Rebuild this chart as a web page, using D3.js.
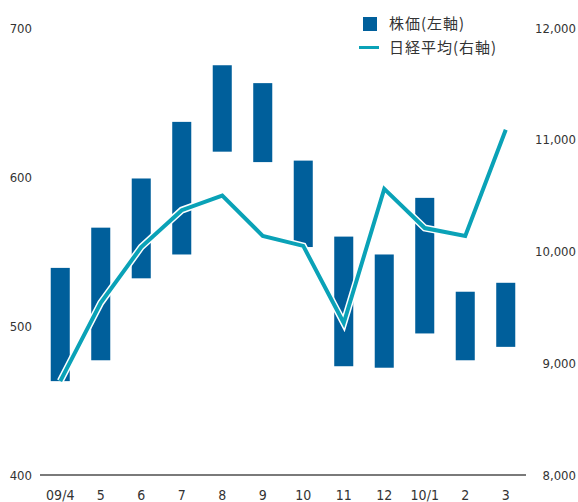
<!DOCTYPE html>
<html>
<head>
<meta charset="utf-8">
<script src="https://cdn.jsdelivr.net/npm/d3@7"></script>
<style>
  html, body { margin: 0; padding: 0; background: #fff; }
  svg { display: block; }
  .num { font-family: "Liberation Sans Narrow", "DejaVu Sans Condensed", "Roboto", sans-serif; font-stretch: condensed; fill: #333; }
  .jp { font-family: "Noto Sans CJK JP", sans-serif; fill: #333; letter-spacing: 1px; }
</style>
</head>
<body>
<svg id="chart" width="578" height="502"></svg>
<script>
// Months, April 2009 through March 2010
const months = ["09/4", "5", "6", "7", "8", "9", "10", "11", "12", "10/1", "2", "3"];
// Monthly share price range (low / high), left axis
const priceHigh = [539, 566, 599, 637, 675, 663, 611, 560, 548, 586, 523, 529];
const priceLow  = [463, 477, 532, 548, 617, 610, 553, 473, 472, 495, 477, 486];
// Nikkei average, right axis
const nikkei = [8840, 9540, 10040, 10370, 10500, 10140, 10050, 9360, 10560, 10210, 10140, 11090];
// Axis ticks
const leftTicks = [400, 500, 600, 700];
const rightTicks = [8000, 9000, 10000, 11000, 12000];

const barColor = "#005f9b";
const lineColor = "#0aa2b7";

const svg = d3.select("#chart");

const x = d3.scaleBand().domain(months).range([40, 526]).paddingInner(0.53).paddingOuter(0.265);
const yL = d3.scaleLinear().domain([400, 700]).range([475, 28]);
const yR = d3.scaleLinear().domain([8000, 12000]).range([475, 28]);

// Left axis labels
svg.append("g").selectAll("text").data(leftTicks).join("text")
  .attr("class", "num")
  .attr("x", 32).attr("y", d => yL(d)).attr("dy", "0.35em")
  .attr("text-anchor", "end").attr("font-size", 13)
  .text(d => d3.format(",")(d));

// Right axis labels
svg.append("g").selectAll("text").data(rightTicks).join("text")
  .attr("class", "num")
  .attr("x", 576).attr("y", d => yR(d)).attr("dy", "0.35em")
  .attr("text-anchor", "end").attr("font-size", 13)
  .text(d => d3.format(",")(d));

// Baseline
svg.append("line")
  .attr("x1", x.range()[0]).attr("x2", x.range()[1])
  .attr("y1", yL(400)).attr("y2", yL(400))
  .attr("stroke", "#7a7a7a").attr("stroke-width", 2);

// Month labels
svg.append("g").selectAll("text").data(months).join("text")
  .attr("class", "num")
  .attr("x", d => x(d) + x.bandwidth() / 2).attr("y", 495).attr("dy", "0.35em")
  .attr("text-anchor", "middle").attr("font-size", 14)
  .text(d => d);

// Price range bars
svg.append("g").selectAll("rect").data(months).join("rect")
  .attr("x", d => x(d))
  .attr("width", x.bandwidth())
  .attr("y", (d, i) => yL(priceHigh[i]))
  .attr("height", (d, i) => yL(priceLow[i]) - yL(priceHigh[i]))
  .attr("fill", barColor);

// Nikkei line with a white halo
const line = d3.line()
  .x((d, i) => x(months[i]) + x.bandwidth() / 2)
  .y(d => yR(d));

svg.append("path").datum(nikkei)
  .attr("d", line).attr("fill", "none")
  .attr("stroke", "#fff").attr("stroke-width", 7);
svg.append("path").datum(nikkei)
  .attr("d", line).attr("fill", "none")
  .attr("stroke", lineColor).attr("stroke-width", 4);

// Legend
const lg = svg.append("g");
lg.append("rect").attr("x", 363).attr("y", 17).attr("width", 14).attr("height", 14).attr("fill", barColor);
lg.append("text").attr("class", "jp").attr("x", 389).attr("y", 24).attr("dy", "0.35em")
  .attr("font-size", 15).text("株価(左軸)");
lg.append("line").attr("x1", 359).attr("x2", 379).attr("y1", 47.5).attr("y2", 47.5)
  .attr("stroke", lineColor).attr("stroke-width", 3);
lg.append("text").attr("class", "jp").attr("x", 389).attr("y", 47.5).attr("dy", "0.35em")
  .attr("font-size", 15).text("日経平均(右軸)");
</script>
</body>
</html>
